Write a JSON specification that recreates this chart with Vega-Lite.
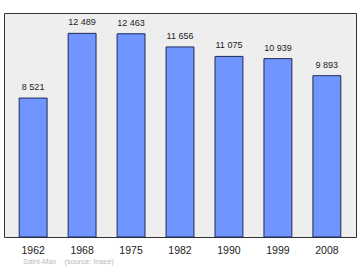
{
  "$schema": "https://vega.github.io/schema/vega-lite/v6.json",
  "width": 352,
  "height": 224,
  "autosize": "none",
  "padding": {"left": 4, "top": 13, "right": 4, "bottom": 33},
  "background": "white",
  "title": {
    "text": "Saint-Max\u00a0\u00a0\u00a0 (source: Insee)",
    "orient": "bottom",
    "anchor": "start",
    "dx": 19,
    "offset": 2,
    "fontSize": 7.4,
    "fontWeight": "normal",
    "color": "#b8b8b8",
    "font": "Liberation Sans"
  },
  "data": {
    "values": [
      {"year": "1962", "pop": 8521},
      {"year": "1968", "pop": 12489},
      {"year": "1975", "pop": 12463},
      {"year": "1982", "pop": 11656},
      {"year": "1990", "pop": 11075},
      {"year": "1999", "pop": 10939},
      {"year": "2008", "pop": 9893}
    ]
  },
  "encoding": {
    "x": {
      "field": "year",
      "type": "ordinal",
      "scale": {"paddingInner": 0.43, "paddingOuter": 0.31},
      "axis": {
        "title": null,
        "domain": false,
        "ticks": false,
        "labelPadding": 8,
        "labelAngle": 0,
        "labelFontSize": 10.5,
        "labelColor": "#222222",
        "labelFont": "Liberation Sans"
      }
    },
    "y": {
      "field": "pop",
      "type": "quantitative",
      "scale": {"domain": [0, 13738], "nice": false},
      "axis": null
    }
  },
  "layer": [
    {
      "mark": {"type": "bar", "fill": "#7095ff", "stroke": "#1f2a55", "strokeWidth": 1}
    },
    {
      "mark": {"type": "text", "dy": -8, "baseline": "alphabetic", "fontSize": 9, "color": "#222222", "font": "Liberation Sans"},
      "encoding": {"text": {"field": "pop", "type": "quantitative", "format": ",d"}}
    }
  ],
  "config": {
    "locale": {"number": {"decimal": ".", "thousands": " ", "grouping": [3], "currency": ["", ""]}},
    "view": {"fill": "#eeeeee", "stroke": "#333333", "strokeWidth": 1}
  }
}
